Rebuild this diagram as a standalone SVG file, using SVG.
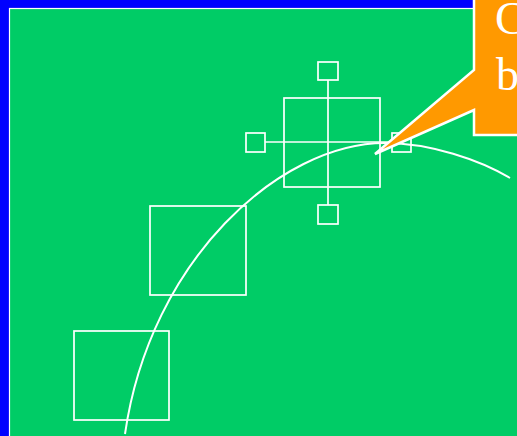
<svg xmlns="http://www.w3.org/2000/svg" width="517" height="436" viewBox="0 0 517 436">
  <style>
    .sq { fill: none; stroke: #ffffff; stroke-width: 1.7; }
    .ln { fill: none; stroke: #ffffff; stroke-width: 1.7; }
    .curve { fill: none; stroke: #ffffff; stroke-width: 2; }
    .callout { fill: #ff9900; stroke: #ffffff; stroke-width: 2.5; stroke-linejoin: miter; }
    .ctext { fill: #ffffff; font-family: "Liberation Serif", "Times New Roman", serif; font-size: 46px; }
  </style>
  <rect id="background" x="0" y="0" width="517" height="436" fill="#0000ff"/>
  <rect id="panel" x="9.5" y="8.5" width="520" height="440" fill="#00cc66" stroke="#ffffff" stroke-width="1.2"/>

  <g id="connectors">
    <line class="ln" x1="328" y1="80" x2="328" y2="205"/>
    <line class="ln" x1="265" y1="142" x2="392" y2="142"/>
    <path id="curve" class="curve" d="M125,434 C150,260 280,143 385,143 C430,143 480,160 510,178"/>
  </g>

  <g id="square-bottom"><rect class="sq" x="74" y="331" width="95" height="89"/></g>
  <g id="square-middle"><rect class="sq" x="150" y="206" width="96" height="89"/></g>
  <g id="square-top"><rect class="sq" x="284" y="98" width="96" height="89"/></g>
  <g id="handle-top"><rect class="sq" x="318" y="62" width="20" height="18"/></g>
  <g id="handle-bottom"><rect class="sq" x="318" y="205" width="20" height="19"/></g>
  <g id="handle-left"><rect class="sq" x="246" y="133" width="19" height="19"/></g>
  <g id="handle-right"><rect class="sq" x="392" y="133" width="19" height="19"/></g>

  <g id="callout">
    <polygon class="callout" points="474,-5 474,70 375,154 474,110 474,135 525,135 525,-5"/>
    <text class="ctext" x="495" y="34">C</text>
    <text class="ctext" x="496" y="90">b</text>
  </g>
</svg>
